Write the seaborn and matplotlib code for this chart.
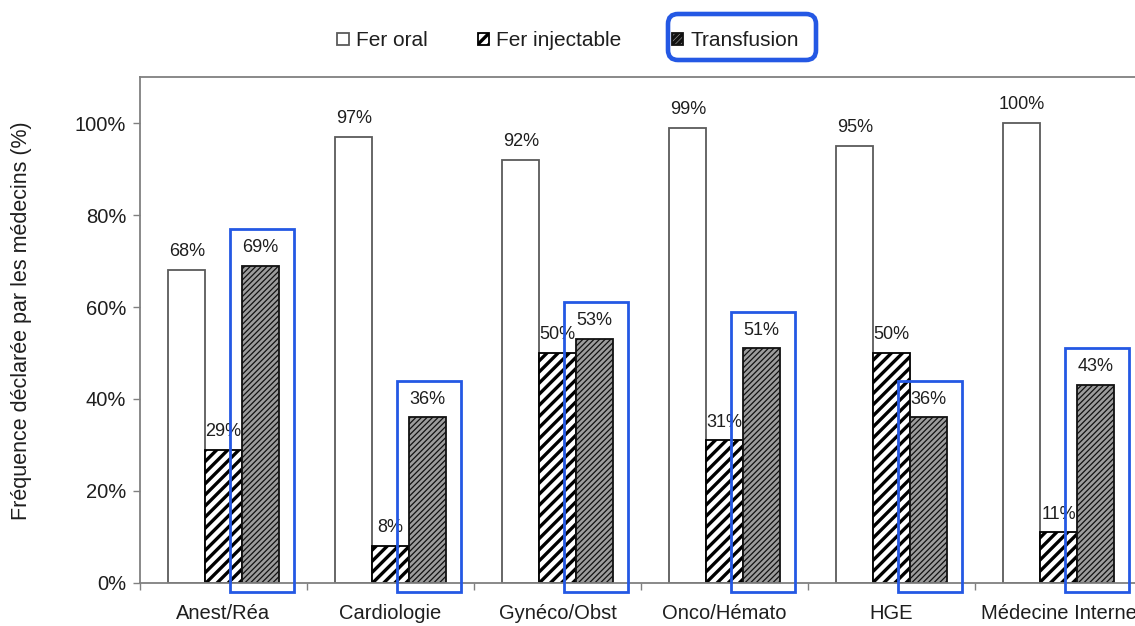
import numpy as np
import pandas as pd
import matplotlib
matplotlib.use("Agg")
import matplotlib.pyplot as plt
import seaborn as sns
from matplotlib.patches import Rectangle, FancyBboxPatch
from matplotlib.transforms import IdentityTransform
from matplotlib.ticker import FixedLocator, FuncFormatter

categories = ["Anest/Réa", "Cardiologie", "Gynéco/Obst", "Onco/Hémato", "HGE", "Médecine Interne"]
series = ["Fer oral", "Fer injectable", "Transfusion"]
fer_oral = [68, 97, 92, 99, 95, 100]
fer_injectable = [29, 8, 50, 31, 50, 11]
transfusion = [69, 36, 53, 51, 36, 43]
y_ticks = [0, 20, 40, 60, 80, 100]

sns.set_theme(style="white")
plt.rcParams["font.family"] = ["Liberation Sans", "DejaVu Sans"]
plt.rcParams["hatch.linewidth"] = 2.4

df = pd.DataFrame({
    "Spécialité": categories * 3,
    "Traitement": [s for s in series for _ in categories],
    "Fréquence": fer_oral + fer_injectable + transfusion,
})

text_col = "#1e1e1e"
axis_col = "#808080"
blue = "#2458e4"

fig = plt.figure(figsize=(11.35, 6.26), dpi=100)
ax = fig.add_axes([140 / 1135, 1 - 583 / 626, 1002 / 1135, 506 / 626])

sns.barplot(data=df, x="Spécialité", y="Fréquence", hue="Traitement",
            order=categories, hue_order=series,
            palette=["white", "white", "#9c9c9c"],
            width=0.66, gap=0, saturation=1, legend=False,
            linewidth=1.3, zorder=2, ax=ax)

# bar styles: plain outline, bold stripes, fine dense stripes
styles = [
    dict(edge="#5a5a5a", hatch=None, hlw=None),
    dict(edge="black", hatch="///", hlw=2.4),
    dict(edge="#111111", hatch="//////", hlw=0.9),
]
for cont, st in zip(ax.containers, styles):
    for p in cont.patches:
        p.set_edgecolor(st["edge"])
        if st["hatch"]:
            p.set_hatch(st["hatch"])
            if hasattr(p, "set_hatch_linewidth"):
                p.set_hatch_linewidth(st["hlw"])

# value labels, drawn beneath the bars
for cont, vals in zip(ax.containers, [fer_oral, fer_injectable, transfusion]):
    ax.bar_label(cont, labels=[f"{v}%" for v in vals], padding=7,
                 fontsize=13, color=text_col, zorder=1.5)

# highlight frames around the transfusion bars
for p in ax.containers[2].patches:
    ax.add_patch(Rectangle((p.get_x() - 0.07, -2), p.get_width() + 0.16,
                           p.get_height() + 10.0, fill=False, ec=blue,
                           lw=2.0, clip_on=False, zorder=3))

ax.set_xlim(-0.5, 5.5)
ax.set_ylim(0, 110)
ax.yaxis.set_major_locator(FixedLocator(y_ticks))
ax.yaxis.set_major_formatter(FuncFormatter(lambda v, _: f"{v:.0f}%"))
ax.tick_params(axis="y", left=True, length=5, width=1, color=axis_col,
               pad=5, labelsize=14.5, labelcolor=text_col, direction="out")

ax.set_xticks(range(len(categories)))
ax.set_xticklabels(categories)
ax.set_xticks(np.arange(-0.5, len(categories), 1), minor=True)
ax.tick_params(axis="x", which="major", bottom=False, length=0, pad=15,
               labelsize=14.5, labelcolor=text_col)
ax.tick_params(axis="x", which="minor", bottom=True, length=5, width=1,
               color=axis_col, direction="out")

for side in ["top", "left", "bottom"]:
    ax.spines[side].set_visible(True)
    ax.spines[side].set_color(axis_col)
    ax.spines[side].set_linewidth(1.3)
ax.spines["right"].set_visible(False)

ax.set_xlabel("")
ax.set_ylabel("Fréquence déclarée par les médecins (%)", fontsize=15.5, color=text_col)
ax.yaxis.set_label_coords(-0.108, 0.518)

fig.legend(list(ax.containers), series, loc="center",
           bbox_to_anchor=(568 / 1135, 1 - 41 / 626), ncol=3, frameon=False,
           fontsize=15, handlelength=0.55, handleheight=0.55,
           handletextpad=0.35, columnspacing=2.4, labelcolor=text_col)

fig.patches.append(FancyBboxPatch((668, 626 - 60), 148, 46,
                                  boxstyle="round,pad=0,rounding_size=10",
                                  fill=False, ec=blue, lw=3.3,
                                  transform=IdentityTransform(), figure=fig))

fig.savefig("out.png", dpi=100)
